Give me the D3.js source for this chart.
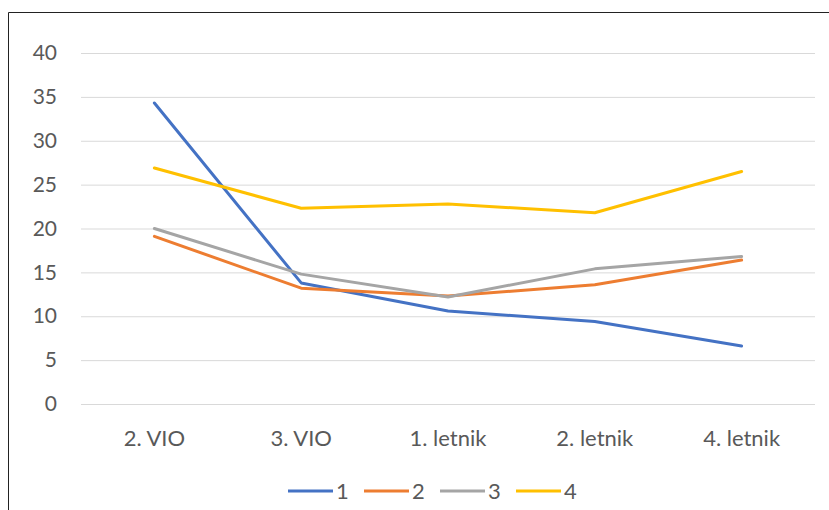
<!DOCTYPE html>
<html>
<head>
<meta charset="utf-8">
<script src="https://cdn.jsdelivr.net/npm/d3@7"></script>
<style>
  body { margin: 0; background: #fff; }
  .chart text { font-family: Lato, "Open Sans", sans-serif; fill: #595959; }
</style>
</head>
<body>
<div class="chart"></div>
<script>
var categories = ["2. VIO", "3. VIO", "1. letnik", "2. letnik", "4. letnik"];
var seriesNames = ["1", "2", "3", "4"];
var s1 = [34.3, 13.8, 10.6, 9.4, 6.6];
var s2 = [19.1, 13.2, 12.3, 13.6, 16.4];
var s3 = [20.0, 14.8, 12.2, 15.4, 16.8];
var s4 = [26.9, 22.3, 22.8, 21.8, 26.5];
var yTicks = [0, 5, 10, 15, 20, 25, 30, 35, 40];

var colors = ["#4472C4", "#ED7D31", "#A5A5A5", "#FFC000"];
var series = [s1, s2, s3, s4];

var W = 829, H = 510;
var margin = {top: 53, right: 14, bottom: 106, left: 81};
var width = W - margin.left - margin.right,
    height = H - margin.top - margin.bottom;

var root = d3.select(".chart").append("svg")
    .attr("width", W)
    .attr("height", H);

// frame (only left and top edges are visible in the crop)
root.append("path")
    .attr("d", "M8.5," + H + "V12.5H" + W)
    .attr("fill", "none")
    .attr("stroke", "#222")
    .attr("stroke-width", 1);

var svg = root.append("g")
    .attr("transform", "translate(" + margin.left + "," + margin.top + ")");

const xScale = d3.scaleBand()
    .domain(categories)
    .range([0, width]);

const yScale = d3.scaleLinear()
    .domain([0, 40])
    .range([height, 0]);

const yAxis = d3.axisLeft(yScale)
    .tickValues(yTicks)
    .tickSize(0)
    .tickPadding(24);

const yAxisGroup = svg.append("g")
    .attr("class", "axis y-axis")
    .call(yAxis);
yAxisGroup.select(".domain").remove();
yAxisGroup.selectAll("text")
    .style("font-size", "21px")
    .style("font-family", "Lato, 'Open Sans', sans-serif")
    .attr("fill", "#595959");
yAxisGroup.selectAll(".tick line")
    .clone()
    .attr("x2", width)
    .attr("stroke", "#d9d9d9")
    .attr("stroke-width", 1);

const xAxis = d3.axisBottom(xScale)
    .tickSize(0)
    .tickPadding(26);

const xAxisGroup = svg.append("g")
    .attr("class", "axis x-axis")
    .attr("transform", `translate(0, ${height})`)
    .call(xAxis);
xAxisGroup.select(".domain").remove();
xAxisGroup.selectAll("text")
    .style("font-size", "22px")
    .style("font-family", "Lato, 'Open Sans', sans-serif")
    .attr("fill", "#595959");

const line = d3.line()
    .x((d, i) => xScale(categories[i]) + xScale.bandwidth() / 2)
    .y(d => yScale(d));

series.forEach(function(s, k) {
    svg.append("path")
        .datum(s)
        .attr("fill", "none")
        .attr("stroke", colors[k])
        .attr("stroke-width", 3)
        .attr("stroke-linejoin", "round")
        .attr("stroke-linecap", "round")
        .attr("d", line);
});

// legend
var legend = root.append("g")
    .attr("transform", "translate(288, 491)");
seriesNames.forEach(function(name, k) {
    var g = legend.append("g").attr("transform", "translate(" + (k * 76) + ",0)");
    g.append("line")
        .attr("x1", 0).attr("x2", 45)
        .attr("stroke", colors[k])
        .attr("stroke-width", 3);
    g.append("text")
        .attr("x", 48)
        .attr("dy", "0.35em")
        .style("font-size", "22px")
        .text(name);
});
</script>
</body>
</html>
